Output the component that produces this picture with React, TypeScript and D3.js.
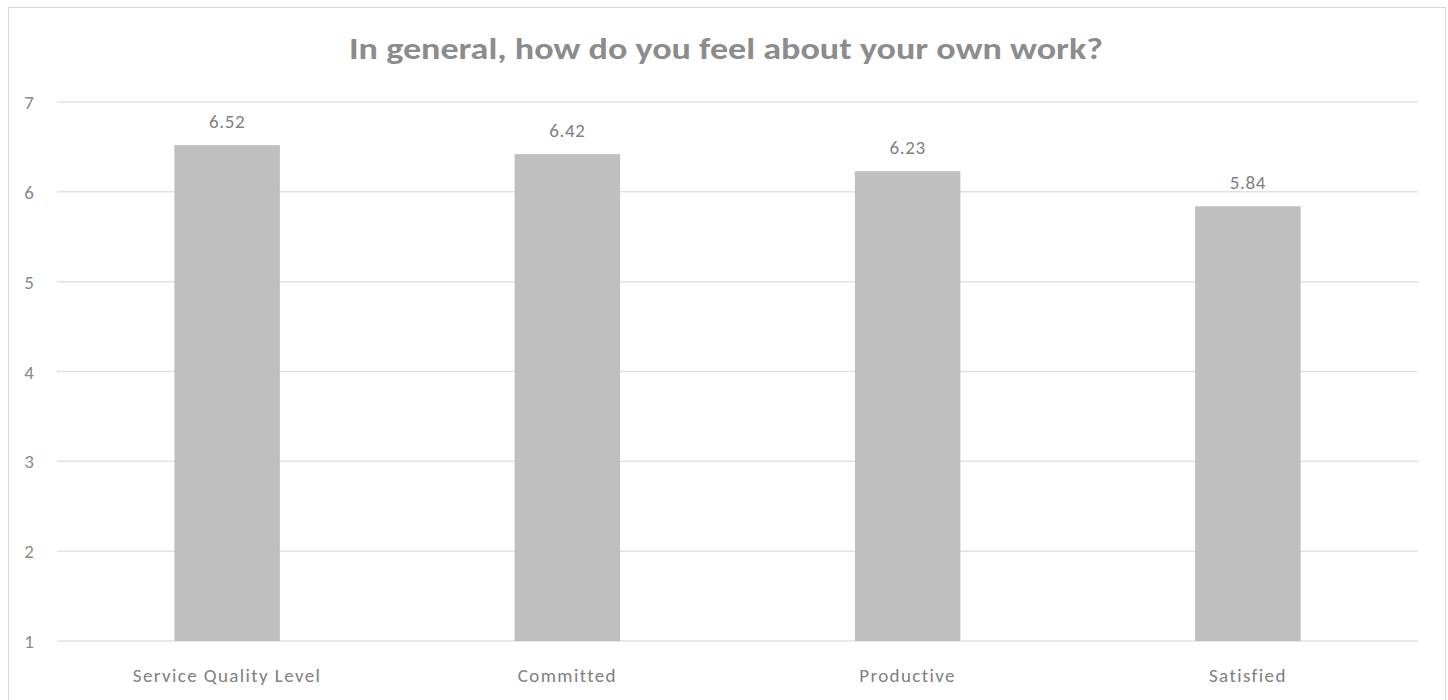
import React from "react";
import * as d3 from "d3";

const categories = ["Service Quality Level", "Committed", "Productive", "Satisfied"];
const values = [6.52, 6.42, 6.23, 5.84];
const yTicks = [1, 2, 3, 4, 5, 6, 7];
const title = "In general, how do you feel about your own work?";

export default function App() {
  const W = 1448, H = 700;
  const left = 57, right = 1418, top = 102, bottom = 641;
  const x = d3.scaleBand<string>().domain(categories).range([left, right]).paddingInner(0.69).paddingOuter(0.345);
  const y = d3.scaleLinear().domain([1, 7]).range([bottom, top]);
  const font = "Carlito, 'Liberation Sans', Arial, sans-serif";
  return (
    <svg width={W} height={H} style={{ position: "absolute", left: 0, top: 0 }} fontFamily={font}>
      <rect x={0} y={0} width={W} height={H} fill="#ffffff" />
      <rect x={8.5} y={7.5} width={1437} height={700} fill="#ffffff" stroke="#d9d9d9" strokeWidth={1} />
      <text x={349} y={59} textAnchor="start" fontSize={31} fontWeight="bold" fill="#8c8c8c" textLength={754} lengthAdjust="spacingAndGlyphs">{title}</text>
      {yTicks.map(t => (
        <g key={t}>
          <line x1={left} x2={right} y1={y(t)} y2={y(t)} stroke="#e2e2e2" strokeWidth={1.5} />
          <text x={29} y={y(t) + 7} textAnchor="middle" fontSize={19} fill="#8a8a8a">{t}</text>
        </g>
      ))}
      {categories.map((c, i) => (
        <g key={c}>
          <rect x={x(c)} y={y(values[i])} width={x.bandwidth()} height={y(1) - y(values[i])} fill="#bfbfbf" />
          <text x={(x(c) as number) + x.bandwidth() / 2} y={y(values[i]) - 17} textAnchor="middle" fontSize={19} letterSpacing={0.6} fill="#808080">{values[i].toFixed(2)}</text>
          <text x={(x(c) as number) + x.bandwidth() / 2} y={682} textAnchor="middle" fontSize={19} letterSpacing={1.4} fill="#808080">{c}</text>
        </g>
      ))}
    </svg>
  );
}
